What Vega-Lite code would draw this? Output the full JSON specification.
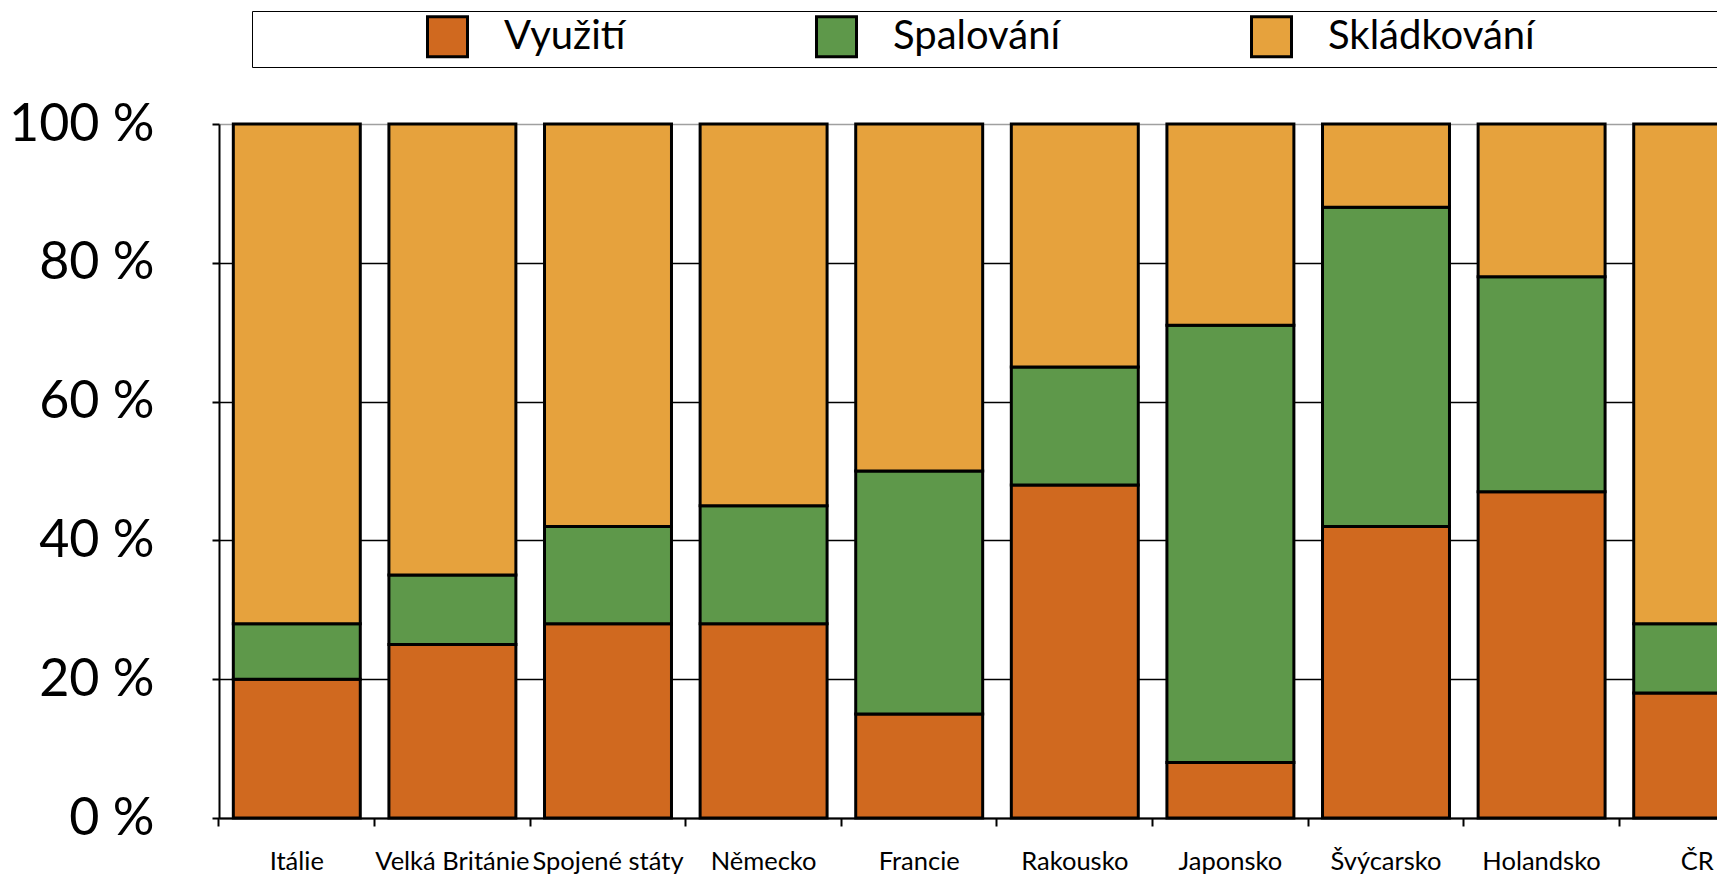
{
  "$schema": "https://vega.github.io/schema/vega-lite/v6.json",
  "autosize": {"type": "none"},
  "width": 1498,
  "height": 694,
  "padding": {"left": 219, "top": 124, "right": 0, "bottom": 60},
  "background": "white",
  "config": {"view": {"stroke": null}, "font": "Lato"},
  "data": {"values": [
    {"zeme": "Itálie", "typ": "Využití", "podil": 20},
    {"zeme": "Itálie", "typ": "Spalování", "podil": 8},
    {"zeme": "Itálie", "typ": "Skládkování", "podil": 72},
    {"zeme": "Velká Británie", "typ": "Využití", "podil": 25},
    {"zeme": "Velká Británie", "typ": "Spalování", "podil": 10},
    {"zeme": "Velká Británie", "typ": "Skládkování", "podil": 65},
    {"zeme": "Spojené státy", "typ": "Využití", "podil": 28},
    {"zeme": "Spojené státy", "typ": "Spalování", "podil": 14},
    {"zeme": "Spojené státy", "typ": "Skládkování", "podil": 58},
    {"zeme": "Německo", "typ": "Využití", "podil": 28},
    {"zeme": "Německo", "typ": "Spalování", "podil": 17},
    {"zeme": "Německo", "typ": "Skládkování", "podil": 55},
    {"zeme": "Francie", "typ": "Využití", "podil": 15},
    {"zeme": "Francie", "typ": "Spalování", "podil": 35},
    {"zeme": "Francie", "typ": "Skládkování", "podil": 50},
    {"zeme": "Rakousko", "typ": "Využití", "podil": 48},
    {"zeme": "Rakousko", "typ": "Spalování", "podil": 17},
    {"zeme": "Rakousko", "typ": "Skládkování", "podil": 35},
    {"zeme": "Japonsko", "typ": "Využití", "podil": 8},
    {"zeme": "Japonsko", "typ": "Spalování", "podil": 63},
    {"zeme": "Japonsko", "typ": "Skládkování", "podil": 29},
    {"zeme": "Švýcarsko", "typ": "Využití", "podil": 42},
    {"zeme": "Švýcarsko", "typ": "Spalování", "podil": 46},
    {"zeme": "Švýcarsko", "typ": "Skládkování", "podil": 12},
    {"zeme": "Holandsko", "typ": "Využití", "podil": 47},
    {"zeme": "Holandsko", "typ": "Spalování", "podil": 31},
    {"zeme": "Holandsko", "typ": "Skládkování", "podil": 22},
    {"zeme": "ČR", "typ": "Využití", "podil": 18},
    {"zeme": "ČR", "typ": "Spalování", "podil": 10},
    {"zeme": "ČR", "typ": "Skládkování", "podil": 72}
  ]},
  "transform": [
    {"calculate": "indexof(['Využití','Spalování','Skládkování'], datum.typ)", "as": "poradi"}
  ],
  "mark": {"type": "bar", "stroke": "black", "strokeWidth": 3},
  "encoding": {
    "x": {
      "field": "zeme", "type": "nominal", "sort": null,
      "scale": {"range": [0, 1556], "paddingInner": 0.184, "paddingOuter": 0.092},
      "axis": {
        "title": null, "labelAngle": 0, "labelFontSize": 25.5, "labelColor": "black",
        "labelPadding": 23, "labelLimit": 400, "labelOverlap": false,
        "ticks": true, "tickSize": 8, "tickColor": "black", "tickWidth": 2,
        "bandPosition": -0.113, "domainColor": "black", "domainWidth": 2, "grid": false
      }
    },
    "y": {
      "field": "podil", "type": "quantitative", "stack": "zero",
      "scale": {"domain": [0, 100]},
      "axis": {
        "title": null, "values": [0, 20, 40, 60, 80, 100],
        "labelExpr": "datum.value + ' %'", "labelFontSize": 52, "labelColor": "black",
        "labelPadding": 58, "tickSize": 7, "tickColor": "black", "tickWidth": 2,
        "domainColor": "black", "domainWidth": 2,
        "grid": true, "gridWidth": 1.6,
        "gridColor": {"condition": {"test": "datum.value === 100", "value": "#a0a0a0"}, "value": "black"}
      }
    },
    "color": {
      "field": "typ", "type": "nominal",
      "scale": {"domain": ["Využití", "Spalování", "Skládkování"], "range": ["#D0691F", "#5E984A", "#E6A23D"]},
      "legend": {
        "orient": "none", "legendX": 33, "legendY": -113, "direction": "horizontal",
        "title": " ", "titleOrient": "left", "titlePadding": 170, "titleFontSize": 20,
        "padding": 4, "fillColor": "white", "strokeColor": "black",
        "symbolType": "square", "symbolSize": 1600, "symbolStrokeColor": "black",
        "symbolStrokeWidth": 3, "symbolOpacity": 1,
        "labelFontSize": 40, "labelColor": "black", "labelOffset": 35, "columnPadding": 184,
        "labelLimit": 900,
        "labelExpr": "datum.label == 'Skládkování' ? datum.label + '\u2003\u2003\u2003\u2003\u2003\u2003\u2003\u2003\u200b' : datum.label"
      }
    },
    "order": {"field": "poradi"}
  }
}
